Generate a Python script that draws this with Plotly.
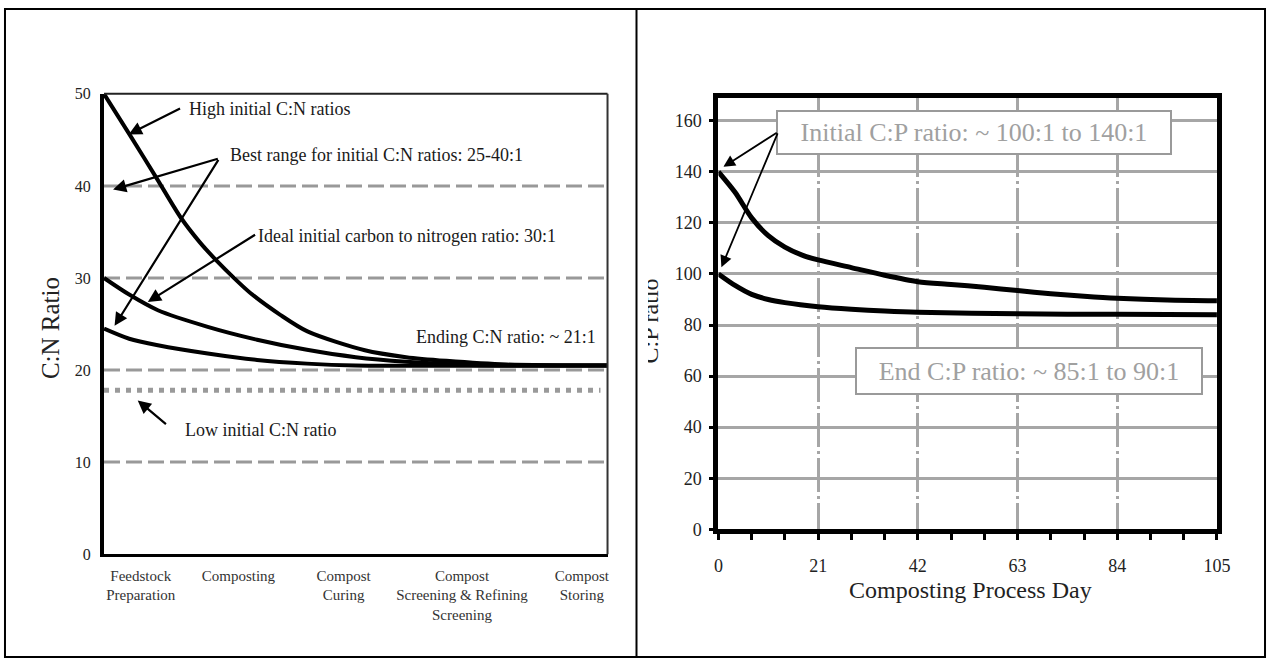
import plotly.graph_objects as go

# ---------------- data ----------------
STAGES = ["Feedstock<br>Preparation", "Composting", "Compost<br>Curing",
          "Compost<br>Screening & Refining<br>Screening", "Compost<br>Storing"]
STAGE_POS = [7.3, 26.7, 47.6, 71.1, 94.9]

HIGH_X = [0, 5.4, 10.5, 15.2, 19, 22.5, 26, 29, 35, 40.4, 51.8, 60, 68, 80, 100]
HIGH_Y = [50, 45.3, 40.8, 36.6, 33.9, 31.8, 29.9, 28.4, 26.0, 24.2, 22.15, 21.4, 21.0, 20.6, 20.5]
IDEAL_X = [0, 5, 10.7, 20.6, 30.4, 40.3, 50, 60, 70, 80, 100]
IDEAL_Y = [30, 28.2, 26.5, 24.7, 23.3, 22.2, 21.4, 20.9, 20.6, 20.5, 20.5]
BEST_LOW_X = [0, 5, 10.7, 20.6, 30.4, 40.3, 50, 100]
BEST_LOW_Y = [24.5, 23.4, 22.7, 21.8, 21.1, 20.7, 20.5, 20.5]
LOW_INIT_X = [0, 98.6]
LOW_INIT_Y = [17.8, 17.8]
CN_GUIDES = [10, 20, 30, 40]
CN_TICKS = [0, 10, 20, 30, 40, 50]

DAYS_140 = [0, 3.5, 7, 10.5, 14, 17.5, 21, 28, 35, 42, 49, 56, 63, 70, 77, 84, 94.5, 105]
CP_140 = [140, 132, 122, 115, 110.5, 107.5, 105.5, 102.5, 99.5, 97, 95.9, 94.8, 93.5, 92.3, 91.3, 90.5, 89.8, 89.5]
DAYS_100 = [0, 3.5, 7, 10.5, 14, 21, 28, 35, 42, 63, 84, 105]
CP_100 = [100, 95.5, 92, 90, 88.8, 87.2, 86.2, 85.5, 85, 84.4, 84.2, 84]
DAY_TICKS = [0, 21, 42, 63, 84, 105]
CP_TICKS = [0, 20, 40, 60, 80, 100, 120, 140, 160]

# ---------------- layout helpers ----------------
# positions below are screen pixels of the target picture; the page shows the
# figure with an 8px body margin and a slight downscale, compensated here.
W, H = 1279, 668
OFF = 8
KX, KY = W / (W + 2 * OFF), H / (H + 2 * OFF)
SERIF = "Liberation Serif, Times New Roman, serif"


def fxp(s):
    return min(max(s / KX - OFF, 1), W - 1)


def fyp(s):
    return min(max(s / KY - OFF, 1), H - 1)


def px(s):
    return fxp(s) / W


def py(s):
    return 1 - fyp(s) / H


fig = go.Figure()
fig.add_trace(go.Scatter(x=LOW_INIT_X, y=LOW_INIT_Y, mode="lines",
                         line=dict(color="#9a9a9a", width=5, dash="5px,6px"),
                         xaxis="x", yaxis="y", hoverinfo="skip"))
for xs, ys in [(HIGH_X, HIGH_Y), (IDEAL_X, IDEAL_Y), (BEST_LOW_X, BEST_LOW_Y)]:
    fig.add_trace(go.Scatter(x=xs, y=ys, mode="lines",
                             line=dict(color="black", width=4, shape="spline", smoothing=0.8),
                             xaxis="x", yaxis="y", hoverinfo="skip"))
for xs, ys in [(DAYS_140, CP_140), (DAYS_100, CP_100)]:
    fig.add_trace(go.Scatter(x=xs, y=ys, mode="lines",
                             line=dict(color="black", width=5, shape="spline", smoothing=0.8),
                             xaxis="x2", yaxis="y2", hoverinfo="skip"))

shapes = []
# page frame + divider
shapes.append(dict(type="rect", xref="paper", yref="paper", x0=px(6), x1=px(1273),
                   y0=py(663), y1=py(6), line=dict(color="black", width=2)))
shapes.append(dict(type="line", xref="paper", yref="paper", x0=px(641), x1=px(641),
                   y0=py(663), y1=py(6), line=dict(color="black", width=2)))
# left panel top/right frame
shapes.append(dict(type="line", xref="x domain", yref="y domain", x0=0, x1=1, y0=1, y1=1,
                   line=dict(color="#222", width=2)))
shapes.append(dict(type="line", xref="x domain", yref="y domain", x0=1, x1=1, y0=0, y1=1,
                   line=dict(color="#333", width=2)))
for g in CN_GUIDES:
    shapes.append(dict(type="line", xref="x domain", yref="y", x0=0, x1=1, y0=g, y1=g,
                       layer="below", line=dict(color="#999", width=3, dash="16px,6px")))

ann = []
ann.append(dict(text="C:N Ratio", xref="paper", yref="paper", x=px(54), y=py(329),
                xanchor="center", yanchor="middle",
                showarrow=False, textangle=-90, font=dict(family=SERIF, size=25, color="#222")))
ann.append(dict(text="Composting Process Day", xref="paper", yref="paper", x=px(975), y=py(592),
                xanchor="center", yanchor="middle",
                showarrow=False, font=dict(family=SERIF, size=24, color="#222")))
ann.append(dict(text="C:P ratio", xref="paper", yref="paper", x=px(655), y=py(322),
                xanchor="center", yanchor="middle",
                showarrow=False, textangle=-90, font=dict(family=SERIF, size=24, color="#222")))
# the table cell clips the left part of the right y-title
ann.append(dict(text="&nbsp;", xref="paper", yref="paper", x=px(648), y=py(322),
                xanchor="center", yanchor="middle", width=10, height=130,
                bgcolor="white", borderpad=0, borderwidth=0, showarrow=False,
                font=dict(size=6, color="white")))

tf = dict(family=SERIF, size=18, color="#1a1a1a")
for txt, x, y in [("High initial C:N ratios", 16.5, 48.4),
                  ("Best range for initial C:N ratios: 25-40:1", 24.7, 43.4),
                  ("Ideal initial carbon to nitrogen ratio: 30:1", 30.1, 34.6),
                  ("Ending C:N ratio: ~ 21:1", 61.5, 23.6),
                  ("Low initial C:N ratio", 15.6, 13.5)]:
    ann.append(dict(text=txt, xref="x", yref="y", x=x, y=y, xanchor="left", yanchor="middle",
                    showarrow=False, font=tf))

for hx, hy, tx, ty in [(4.9, 45.6, 15.4, 48.5),
                       (1.8, 39.6, 22.9, 43.0),
                       (2.1, 24.8, 22.9, 43.0),
                       (8.7, 27.4, 30.3, 34.8),
                       (6.7, 16.7, 12.6, 14.0)]:
    ann.append(dict(text="", xref="x", yref="y", x=hx, y=hy, axref="x", ayref="y", ax=tx, ay=ty,
                    showarrow=True, arrowhead=2, arrowsize=1.2, arrowwidth=2.2,
                    arrowcolor="black", standoff=0, startstandoff=0))

bf = dict(family=SERIF, size=26, color="#a0a0a0")
ann.append(dict(text="Initial C:P ratio: ~ 100:1 to 140:1", xref="x2", yref="y2",
                x=53.8, y=155.5, xanchor="center", yanchor="middle",
                showarrow=False, font=bf, bgcolor="white",
                bordercolor="#9a9a9a", borderwidth=2, borderpad=2, width=388, height=37))
ann.append(dict(text="End C:P ratio: ~ 85:1 to 90:1", xref="x2", yref="y2",
                x=65.5, y=62, xanchor="center", yanchor="middle",
                showarrow=False, font=bf, bgcolor="white",
                bordercolor="#9a9a9a", borderwidth=2, borderpad=2, width=340, height=40))
for hx, hy in [(1.05, 142), (0.63, 102.6)]:
    ann.append(dict(text="", xref="x2", yref="y2", x=hx, y=hy, axref="x2", ayref="y2",
                    ax=12.6, ay=155.7, showarrow=True, arrowhead=2, arrowsize=1.3,
                    arrowwidth=1.8, arrowcolor="black", standoff=0, startstandoff=0))

fig.update_layout(
    width=W, height=H, autosize=False,
    margin=dict(l=0, r=0, t=0, b=0),
    paper_bgcolor="white", plot_bgcolor="white",
    showlegend=False,
    font=dict(family=SERIF, color="#222"),
    xaxis=dict(domain=[px(108), px(612)], range=[0, 100], anchor="y",
               tickvals=STAGE_POS, ticktext=STAGES, ticks="", showgrid=False, zeroline=False,
               showline=True, linewidth=2.5, linecolor="black",
               tickfont=dict(family=SERIF, size=15, color="#333"), ticklabelstandoff=6),
    yaxis=dict(domain=[py(556), py(94)], range=[0, 50], anchor="x",
               tickvals=CN_TICKS, ticks="", showgrid=False, zeroline=False,
               showline=True, linewidth=4, linecolor="black",
               tickfont=dict(family=SERIF, size=16, color="#222"), ticklabelstandoff=6),
    xaxis2=dict(domain=[px(723), px(1222)], range=[0, 105], anchor="y2",
                tickvals=DAY_TICKS, ticks="outside", ticklen=6, tickwidth=3, tickcolor="black",
                showgrid=True, gridcolor="#a6a6a6", gridwidth=3, griddash="34px,4px,3px,4px",
                zeroline=False, showline=True, linewidth=5, linecolor="black", mirror=True,
                minor=dict(dtick=7, tick0=0, ticks="outside", ticklen=6, tickwidth=3,
                           tickcolor="black", showgrid=False),
                tickfont=dict(family=SERIF, size=18, color="#222"), ticklabelstandoff=10),
    yaxis2=dict(domain=[py(531), py(98)], range=[0, 169], anchor="x2",
                tickvals=CP_TICKS, ticks="outside", ticklen=4, tickwidth=3, tickcolor="black",
                showgrid=True, gridcolor="#a6a6a6", gridwidth=2.5, zeroline=False,
                showline=True, linewidth=5, linecolor="black", mirror=True,
                tickfont=dict(family=SERIF, size=18, color="#222"), ticklabelstandoff=4),
    shapes=shapes,
    annotations=ann,
)

fig.write_html("out.html")
